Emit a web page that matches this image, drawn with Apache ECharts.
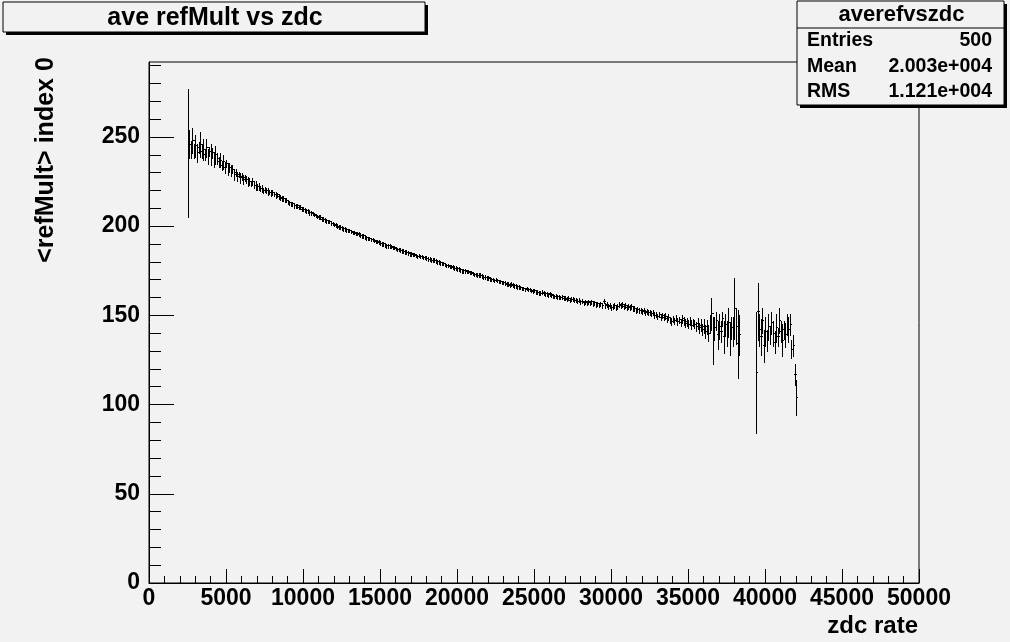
<!DOCTYPE html>
<html><head><meta charset="utf-8">
<script src="https://cdn.jsdelivr.net/npm/echarts@6/dist/echarts.min.js"></script>
<style>html,body{margin:0;padding:0;background:#f2f2f2;}#c{width:1010px;height:642px;}</style>
</head><body><div id="c"></div><script>
// ---- data ----
const histTitle = 'ave refMult vs zdc';
const xTitle = 'zdc rate';
const yTitle = '<refMult> index 0';
const statsName = 'averefvszdc';
const statsLabels = ['Entries', 'Mean', 'RMS'];
const statsValues = ['500', '2.003e+004', '1.121e+004'];
const binStart = 2500;   // low edge of first filled bin
const binWidth = 100;
const xMin = 0, xMax = 50000, xStep = 5000;
const yMin = 0, yMax = 292;
const yMajor = [0, 50, 100, 150, 200, 250];
const yMinor = [10,20,30,40,60,70,80,90,110,120,130,140,160,170,180,190,210,220,230,240,260,270,280,290];

const refMultMean = [
241,246,243,248,242,245,241,244,246,242,
243,240,244,239,242,240,241,237,240,238,
236,237,234,236,233,235,232,233,231,232,
229,230,228,229,227,228,226,227,226,225,
225,224,225,223,223,222,222,221,221,220,
220.5,220,219.5,219,218.5,219,218,217.5,217.5,216.5,
216,215.5,215.5,214.5,214.5,213.5,213,212.5,212.5,211.5,
211.5,211.5,210.5,210.5,209.5,209.5,209,208.5,208.5,207.5,
207.5,207,206.5,206,205.5,205,205,204,204,203.5,
203,202.5,202.5,201.5,201.5,201,200.5,200,199.5,199.5,
199,198.5,198.5,198,197.5,197.5,197,196.5,196.5,196,
196,195.5,195,194.5,194.5,194,193.5,193,193,192.5,
192.5,192,191.5,191.5,191,190.5,190,190,189.5,189,
189,189,188.5,188,188,187.5,187,187,186.5,186,
186,185.5,185.5,185,184.5,184.5,184,184,183.5,183,
183.5,183,183,182.5,182.5,182,181.5,181.5,181,181,
181,180.5,180,180,179.5,179,179,178.5,178,178,
177.5,177.5,177,176.5,176.5,176,176,175.5,175,175,
175,174.5,174.5,174,174,173.5,173,173,172.5,172.5,
172.5,172,171.5,171.5,171,171,170.5,170,170,169.5,
170,169.5,169,169,168.5,168.5,168,167.5,167.5,167,
167.5,167,166.5,166.5,166,166,165.5,165,165,164.5,
165,164.5,164.5,164,163.5,164,163,163,162.5,162.5,
163,162.5,162,162,161.5,162,161.5,161,160.5,161,
160.5,160.5,160,160.5,159.5,159.5,159,159.5,158.5,159,
159,158.5,158.5,158,158.5,157.5,158,157,157.5,157,
157.5,157,157.5,156.5,157,156,156.5,156,156.5,155.5,
158,155.5,156,155,155.5,154.5,155,155.5,154.5,155,
156,155.5,156,155,155.5,154.5,155,154.5,155,154,
154,153,153.5,152.5,153,152,152.5,151.5,152,151.5,
151.5,151,151.5,150,150.5,149.5,150.5,149,150,149,
149.5,148,149,147.5,146.5,148,147,148.5,146.5,147.5,
146,148,147,145.5,146.5,145,147,144.5,146,145,
144,145.5,143,144.5,142,144,141,143.5,140,145,
151,136,143,147,139,144,141,148,138,145,
140,146,137,143,141,154,144,134,139,null,
null,null,null,null,null,null,null,null,null,118,
152,142,138,147,133,141,136,144,139,146,
140,135,143,138,147,141,136,142,139,145,
142,145,131,133,117,104
];

const refMultErr = [
36,8,5,7,4,6,5,3,7,4,
6,3,5,4,2.5,6,3,4,5,3,
3,4,2.5,4,3,2,3.5,2.5,3,2,
3,2,2.5,1.5,3,2,2.5,1.5,2,2.5,
2,1.5,2,1.5,2.5,1.5,2,1.5,2,1.5,
1.5,1.5,2,1.2,1.5,1.5,1.2,1.5,1.2,1.5,
1.2,1.2,1.2,1.2,1.2,1.2,1.2,1.2,1.2,1.2,
1.1,1.1,1.1,1.1,1.1,1.1,1.1,1.1,1.1,1.1,
1,1,1,1,1,1,1,1,1,1,
1,1,1,1,1,1,1,1,1,1,
1,1,1,1,1,1,1,1,1,1,
1,1,1,1,1,1,1,1,1,1,
1,1,1,1,1,1,1,1,1,1,
1,1,1,1,1,1,1,1,1,1,
1,1,1,1,1,1,1,1,1,1,
1,1,1,1,1,1,1,1,1,1,
1,1,1,1,1,1,1,1,1,1,
1,1,1,1,1,1,1,1,1,1,
1,1,1,1,1,1,1,1,1,1,
1,1,1,1,1,1,1,1,1,1,
1,1,1,1,1,1,1,1,1,1,
1,1,1,1,1,1,1,1,1,1,
1,1,1,1,1,1,1,1,1,1,
1,1,1,1,1,1,1,1,1,1,
1.1,1.1,1.1,1.1,1.1,1.1,1.1,1.1,1.1,1.1,
1.2,1.2,1.2,1.2,1.2,1.2,1.2,1.2,1.2,1.2,
1.2,1.2,1.2,1.2,1.2,1.2,1.2,1.2,1.2,1.2,
1.3,1.3,1.3,1.3,1.3,1.3,1.3,1.3,1.3,1.3,
1.3,1.3,1.3,1.3,1.3,1.3,1.3,1.3,1.3,1.3,
1.4,1.4,1.4,1.4,1.4,1.4,1.4,1.4,1.4,1.4,
1.5,1.5,1.5,1.5,1.5,1.5,1.5,1.5,1.5,1.5,
1.8,1.8,1.8,1.8,1.8,1.8,1.8,1.8,1.8,1.8,
2.2,2.2,2.2,2.2,2.2,2.2,2.2,2.2,2.2,2.2,
2.5,3,3,3.5,3,4,3.5,4,4.5,5,
9,13,6,5,8,7,6,4,9,6,
7,8,9,6,8,17,10,19,11,null,
null,null,null,null,null,null,null,null,null,34,
16,9,10,7,9,8,6,7,5,6,
7,6,8,5,7,6,9,5,7,6,
7,6,5,6,6,10
];

// ---- chart ----
const FONT = 'Liberation Sans, Arial, Helvetica, sans-serif';
const BG = '#f2f2f2';
const points = [];
for (let i = 0; i < refMultMean.length; i++) {
  if (refMultMean[i] == null) continue;
  points.push([binStart + binWidth * (i + 0.5), refMultMean[i], refMultErr[i]]);
}

// crisp 1px lines like the original raster
const snap = v => Math.round(v - 0.5) + 0.5;
function renderBin(params, api) {
  const xc = api.value(0), y = api.value(1), e = api.value(2);
  const a = api.coord([xc - binWidth / 2, y]);
  const b = api.coord([xc + binWidth / 2, y]);
  const t = api.coord([xc, y + e]);
  const d = api.coord([xc, y - e]);
  const st = { stroke: '#000', lineWidth: 1 };
  const yy = snap(a[1]), xx = snap(t[0]);
  return { type: 'group', children: [
    { type: 'line', shape: { x1: Math.round(a[0]), y1: yy, x2: Math.round(b[0]) + 1, y2: yy }, style: st },
    { type: 'line', shape: { x1: xx, y1: Math.round(t[1]), x2: xx, y2: Math.round(d[1]) + 1 }, style: st }
  ]};
}

const chart = echarts.init(document.getElementById('c'), null, { renderer: 'canvas' });
const statsTop = 1, statsLeft = 797, statsW = 207, statsRowH = 25.5;
const graphics = [
  // title box
  { type: 'rect', shape: { x: 6, y: 5, width: 422, height: 30 }, style: { fill: '#000' } },
  { type: 'rect', shape: { x: 3, y: 2, width: 422, height: 30 }, style: { fill: BG, stroke: '#000', lineWidth: 1 } },
  { type: 'text', x: 215, y: 18, style: { text: histTitle, font: 'bold 25px ' + FONT, fill: '#000', align: 'center', verticalAlign: 'middle' } },
  // stats box
  { type: 'rect', shape: { x: statsLeft + 3, y: statsTop + 3, width: statsW, height: 104 }, style: { fill: '#000' } },
  { type: 'rect', shape: { x: statsLeft, y: statsTop, width: statsW, height: 104 }, style: { fill: BG, stroke: '#000', lineWidth: 1 } },
  { type: 'line', shape: { x1: statsLeft, y1: 28, x2: statsLeft + statsW, y2: 28 }, style: { stroke: '#000', lineWidth: 1 } },
  { type: 'text', x: statsLeft + statsW / 2 + 1, y: 15, style: { text: statsName, font: 'bold 22px ' + FONT, fill: '#000', align: 'center', verticalAlign: 'middle' } },
  // axis titles
  { type: 'text', x: 46, y: 160, rotation: Math.PI / 2, style: { text: yTitle, font: 'bold 25px ' + FONT, fill: '#000', align: 'center', verticalAlign: 'middle' } },
  { type: 'text', x: 918, y: 626, style: { text: xTitle, font: 'bold 24px ' + FONT, fill: '#000', align: 'right', verticalAlign: 'middle' } }
];
statsLabels.forEach((lab, i) => {
  const yy = 41 + i * statsRowH;
  graphics.push({ type: 'text', x: statsLeft + 10, y: yy, style: { text: lab, font: 'bold 19.5px ' + FONT, fill: '#000', align: 'left', verticalAlign: 'middle' } });
  graphics.push({ type: 'text', x: statsLeft + statsW - 12, y: yy, style: { text: statsValues[i], font: 'bold 19.5px ' + FONT, fill: '#000', align: 'right', verticalAlign: 'middle' } });
});

const labelStyle = { color: '#000', fontFamily: FONT, fontWeight: 'bold' };
chart.setOption({
  backgroundColor: BG,
  animation: false,
  grid: { left: 149, top: 62, width: 770, height: 521, show: true, borderColor: '#000', borderWidth: 1, backgroundColor: 'transparent' },
  xAxis: {
    type: 'value', min: xMin, max: xMax, interval: xStep,
    axisLine: { onZero: false, lineStyle: { color: '#000', width: 1 } },
    axisTick: { inside: true, length: 14, lineStyle: { color: '#000', width: 1 } },
    minorTick: { show: true, splitNumber: 5, length: 7, lineStyle: { color: '#000', width: 1 } },
    splitLine: { show: false }, minorSplitLine: { show: false },
    axisLabel: Object.assign({ fontSize: 23, margin: 4, hideOverlap: false, formatter: v => String(v) }, labelStyle)
  },
  yAxis: [
    {
      type: 'value', min: yMin, max: yMax, position: 'left',
      axisLine: { onZero: false, lineStyle: { color: '#000', width: 1 } },
      axisTick: { inside: true, length: 25, customValues: yMajor, lineStyle: { color: '#000', width: 1 } },
      axisLabel: Object.assign({ fontSize: 23, margin: 9, customValues: yMajor, formatter: v => String(v) }, labelStyle),
      splitLine: { show: false }
    },
    {
      type: 'value', min: yMin, max: yMax, position: 'left',
      axisLine: { show: false },
      axisTick: { inside: true, length: 12, customValues: yMinor, lineStyle: { color: '#000', width: 1 } },
      axisLabel: { show: false },
      splitLine: { show: false }
    }
  ],
  graphic: graphics,
  series: [{ type: 'custom', xAxisIndex: 0, yAxisIndex: 0, data: points, renderItem: renderBin, clip: true, silent: true }]
});
</script></body></html>
